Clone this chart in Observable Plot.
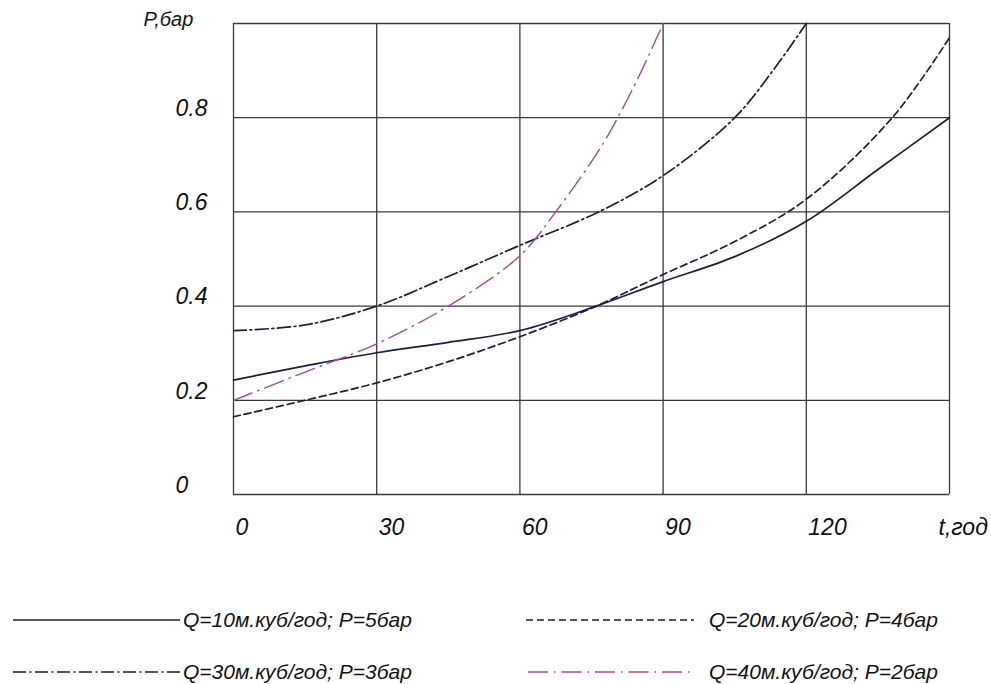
<!DOCTYPE html>
<html>
<head>
<meta charset="utf-8">
<script src="https://cdn.jsdelivr.net/npm/d3@7"></script>
<script src="https://cdn.jsdelivr.net/npm/@observablehq/plot@0.6"></script>
<style>
  html, body { margin: 0; padding: 0; background: #fff; }
  #wrap { width: 991px; height: 684px; position: relative; overflow: hidden; }
</style>
</head>
<body>
<div id="wrap"></div>
<script>
// ---- data (t in years, P in bar) ----
const xTicks = [0, 30, 60, 90, 120];
const xGrid = [0, 30, 60, 90, 120, 150];
const yTicks = [0, 0.2, 0.4, 0.6, 0.8];
const yGrid = [0, 0.2, 0.4, 0.6, 0.8, 1.0];
const yTickLabels = ["0", "0.2", "0.4", "0.6", "0.8"];

const labels = [
  "Q=10м.куб/год; P=5бар",
  "Q=20м.куб/год; P=4бар",
  "Q=30м.куб/год; P=3бар",
  "Q=40м.куб/год; P=2бар"
];

const t1 = [0, 15, 30, 45, 60, 76, 90, 105, 120, 135, 150];
const p1 = [0.243, 0.273, 0.301, 0.323, 0.348, 0.40, 0.452, 0.505, 0.58, 0.69, 0.80];

const t2 = [0, 15, 30, 45, 60, 76, 90, 105, 120, 138, 150];
const p2 = [0.165, 0.2, 0.237, 0.282, 0.335, 0.40, 0.467, 0.537, 0.627, 0.80, 0.97];

const t3 = [0, 15, 30, 45, 60, 76.5, 90, 105, 113, 120];
const p3 = [0.348, 0.36, 0.40, 0.463, 0.529, 0.60, 0.677, 0.80, 0.90, 1.0];

const t4 = [0, 15, 30, 45, 60, 67.5, 76.5, 80.5, 85.5, 90];
const p4 = [0.2, 0.26, 0.32, 0.40, 0.507, 0.60, 0.73, 0.80, 0.90, 1.0];

const toRows = (ts, ps) => ts.map((t, i) => ({t, p: ps[i]}));
const s1 = toRows(t1, p1), s2 = toRows(t2, p2), s3 = toRows(t3, p3), s4 = toRows(t4, p4);

const navy = "#1d1d3f";
const pink = "#a8489a";
const gridC = "#3a3a3a";
const styles = [
  {stroke: navy, dash: null},
  {stroke: navy, dash: "7,4"},
  {stroke: navy, dash: "13,3.5,2,3.5"},
  {stroke: pink, dash: "20,6,1.5,6"}
];
const font = '"Liberation Sans", Arial, sans-serif';

const H = 560;
const chart = Plot.plot({
  width: 991,
  height: H,
  marginLeft: 233,
  marginRight: 42,
  marginTop: 23,
  marginBottom: H - 494,
  x: {domain: [0, 150], axis: null},
  y: {domain: [0, 1], axis: null},
  style: {fontFamily: font, background: "#fff", overflow: "visible"},
  marks: [
    Plot.ruleX(xGrid, {stroke: gridC, strokeWidth: 1.3}),
    Plot.ruleY(yGrid, {stroke: gridC, strokeWidth: 1.3}),
    Plot.line(s1, {x: "t", y: "p", stroke: styles[0].stroke, strokeWidth: 1.7, curve: "catmull-rom"}),
    Plot.line(s2, {x: "t", y: "p", stroke: styles[1].stroke, strokeWidth: 1.7, strokeDasharray: styles[1].dash, curve: "catmull-rom"}),
    Plot.line(s3, {x: "t", y: "p", stroke: styles[2].stroke, strokeWidth: 1.7, strokeDasharray: styles[2].dash, curve: "catmull-rom"}),
    Plot.line(s4, {x: "t", y: "p", stroke: styles[3].stroke, strokeWidth: 1.4, strokeDasharray: styles[3].dash, curve: "catmull-rom"}),
    Plot.text(xTicks, {x: d => d, frameAnchor: "bottom", dy: 33, dx: 2, text: d => String(d), textAnchor: "start", lineAnchor: "middle", fontSize: 23, fontStyle: "italic", fill: "#111"}),
    Plot.text(yTicks, {y: d => d, frameAnchor: "left", dx: -58, dy: -9, text: (d, i) => yTickLabels[i], textAnchor: "start", lineAnchor: "middle", fontSize: 23, fontStyle: "italic", fill: "#111"}),
    Plot.text(["P,бар"], {frameAnchor: "top-left", dx: -90, dy: -4, textAnchor: "start", lineAnchor: "middle", fontSize: 20, fontStyle: "italic", fill: "#111"}),
    Plot.text(["t,год"], {frameAnchor: "bottom-right", dx: -11, dy: 33, textAnchor: "start", lineAnchor: "middle", fontSize: 23, fontStyle: "italic", fill: "#111"})
  ]
});
const wrap = document.getElementById("wrap");
wrap.appendChild(chart);

// ---- legend below the chart ----
const legendItems = [
  {label: labels[0], style: styles[0], x1: 13, x2: 180, tx: 183, row: 0},
  {label: labels[2], style: styles[2], x1: 13, x2: 180, tx: 183, row: 1},
  {label: labels[1], style: styles[1], x1: 526, x2: 694, tx: 709, row: 0},
  {label: labels[3], style: styles[3], x1: 528, x2: 694, tx: 709, row: 1}
];
const leg = d3.create("svg").attr("width", 991).attr("height", 684 - H).style("display", "block");
const rowY = [60, 112];
for (const it of legendItems) {
  leg.append("line")
    .attr("x1", it.x1).attr("x2", it.x2)
    .attr("y1", rowY[it.row]).attr("y2", rowY[it.row])
    .attr("stroke", it.style.stroke).attr("stroke-width", 1.6)
    .attr("stroke-dasharray", it.style.dash);
  leg.append("text")
    .attr("x", it.tx).attr("y", rowY[it.row]).attr("dy", "0.35em")
    .attr("font-family", font).attr("font-style", "italic").attr("font-size", 21)
    .attr("fill", "#111").text(it.label);
}
wrap.appendChild(leg.node());
</script>
</body>
</html>
